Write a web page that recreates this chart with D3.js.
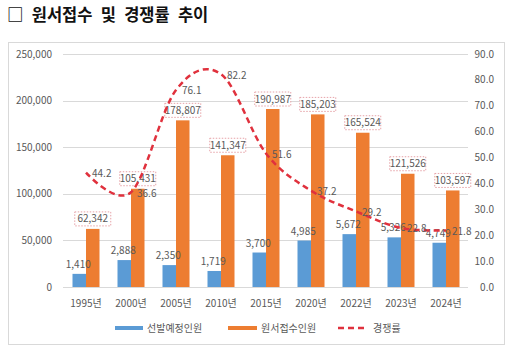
<!DOCTYPE html>
<html><head><meta charset="utf-8">
<script src="https://cdn.jsdelivr.net/npm/d3@7"></script>
<style>body{margin:0;background:#fff;}svg{display:block;font-family:"Noto Sans CJK KR","Noto Sans",sans-serif;}</style>
</head><body><svg id="c" width="512" height="355"></svg>
<script>
const categories = ["1995년","2000년","2005년","2010년","2015년","2020년","2022년","2023년","2024년"];
const planned = [1410, 2888, 2350, 1719, 3700, 4985, 5672, 5326, 4749];
const applicants = [62342, 105431, 178807, 141347, 190987, 185203, 165524, 121526, 103597];
const rate = [44.2, 36.6, 76.1, 82.2, 51.6, 37.2, 29.2, 22.8, 21.8];
const leftTicks = [0, 50000, 100000, 150000, 200000, 250000];
const rightTicks = [0, 10, 20, 30, 40, 50, 60, 70, 80, 90];
const seriesNames = ["선발예정인원", "원서접수인원", "경쟁률"];
const title = "□ 원서접수 및 경쟁률 추이";

const svg = d3.select("#c");
const gray = "#595959";
const blue = "#5b9bd5", orange = "#ed7d31", red = "#e0313d";

svg.append("text").attr("x", 7).attr("y", 21).attr("font-size", 16.5).attr("font-weight", "bold")
  .attr("fill", "#111").attr("word-spacing", 4.5).text(title);

svg.append("rect").attr("x", 8.5).attr("y", 42.5).attr("width", 496).attr("height", 302)
  .attr("fill", "none").attr("stroke", "#d9d9d9");

const x = d3.scaleBand().domain(categories).range([63.5, 468.5]).paddingInner(0.4).paddingOuter(0.2);
const x1 = d3.scaleBand().domain([0, 1]).range([0, x.bandwidth()]);
const yL = d3.scaleLinear().domain([0, 250000]).range([287, 54]);
const yB = d3.scaleLinear().domain([0, 25000]).range([287, 54]);
const yR = d3.scaleLinear().domain([0, 90]).range([287, 54]);

svg.append("g").selectAll("line").data(leftTicks).join("line")
  .attr("x1", 63).attr("x2", 468).attr("y1", d => Math.round(yL(d)) + 0.5).attr("y2", d => Math.round(yL(d)) + 0.5)
  .attr("stroke", "#d9d9d9");

const fmt = d3.format(",");
svg.append("g").selectAll("text").data(leftTicks).join("text")
  .attr("x", 52).attr("y", d => yL(d) + 3.5).attr("text-anchor", "end")
  .attr("font-size", 10).attr("fill", gray).text(d => fmt(d));
svg.append("g").selectAll("text").data(rightTicks).join("text")
  .attr("x", 494).attr("y", d => yR(d) + 3.5).attr("text-anchor", "end")
  .attr("font-size", 10).attr("fill", gray).text(d => d.toFixed(1));
svg.append("g").selectAll("text").data(categories).join("text")
  .attr("x", d => x(d) + x.bandwidth() / 2).attr("y", 307).attr("text-anchor", "middle")
  .attr("font-size", 10).attr("fill", gray).text(d => d);

svg.append("g").selectAll("rect").data(planned).join("rect")
  .attr("x", (d, i) => x(categories[i]) + x1(0)).attr("width", x1.bandwidth())
  .attr("y", d => yB(d)).attr("height", d => yB(0) - yB(d)).attr("fill", blue);
svg.append("g").selectAll("rect").data(applicants).join("rect")
  .attr("x", (d, i) => x(categories[i]) + x1(1)).attr("width", x1.bandwidth())
  .attr("y", d => yL(d)).attr("height", d => yL(0) - yL(d)).attr("fill", orange);

svg.append("g").selectAll("text").data(planned).join("text")
  .attr("x", (d, i) => x(categories[i]) + x1(0) + x1.bandwidth() / 2 - 1)
  .attr("y", d => yB(d) - 6).attr("text-anchor", "middle")
  .attr("font-size", 10).attr("fill", gray).text(d => fmt(d));

const ag = svg.append("g").selectAll("g").data(applicants).join("g")
  .attr("transform", (d, i) => `translate(${x(categories[i]) + x1(1) + x1.bandwidth() / 2},${yL(d) - 10})`);
ag.append("rect").attr("x", -18).attr("y", -7).attr("width", 36).attr("height", 14)
  .attr("fill", "#fff").attr("stroke", "#e6a3a8").attr("stroke-dasharray", "1.5,1.5");
ag.append("text").attr("y", 3.5).attr("text-anchor", "middle").attr("font-size", 10)
  .attr("fill", gray).text(d => fmt(d));

const line = d3.line().x((d, i) => x(categories[i]) + x.bandwidth() / 2).y(d => yR(d)).curve(d3.curveCardinal);
svg.append("path").datum(rate).attr("d", line).attr("fill", "none").attr("stroke", red)
  .attr("stroke-width", 2.5).attr("stroke-dasharray", "6,4");
svg.append("g").selectAll("text").data(rate).join("text")
  .attr("x", (d, i) => x(categories[i]) + x.bandwidth() / 2 + 6).attr("y", d => yR(d) + 4.5)
  .attr("font-size", 10).attr("fill", gray).text(d => d.toFixed(1));

const lg = svg.append("g");
lg.append("rect").attr("x", 115).attr("y", 326).attr("width", 28).attr("height", 4).attr("fill", blue);
lg.append("text").attr("x", 147).attr("y", 331.5).attr("font-size", 10).attr("fill", gray).text(seriesNames[0]);
lg.append("rect").attr("x", 228).attr("y", 326).attr("width", 29).attr("height", 4).attr("fill", orange);
lg.append("text").attr("x", 261).attr("y", 331.5).attr("font-size", 10).attr("fill", gray).text(seriesNames[1]);
lg.append("line").attr("x1", 338).attr("x2", 368).attr("y1", 328).attr("y2", 328).attr("stroke", red)
  .attr("stroke-width", 2.5).attr("stroke-dasharray", "6,4");
lg.append("text").attr("x", 373).attr("y", 331.5).attr("font-size", 10).attr("fill", gray).text(seriesNames[2]);
</script></body></html>
